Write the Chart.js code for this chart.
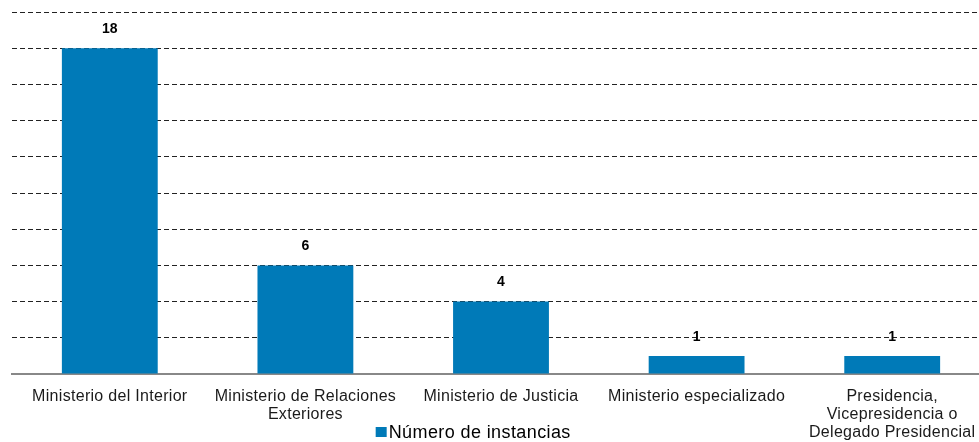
<!DOCTYPE html>
<html>
<head>
<meta charset="utf-8">
<script src="https://cdn.jsdelivr.net/npm/chart.js@4"></script>
<style>
    html, body { margin: 0; padding: 0; background: #ffffff; overflow: hidden; }
    #wrap { width: 990px; height: 442px; }
</style>
</head>
<body>
<div id="wrap"><canvas id="instChart" width="990" height="442"></canvas></div>
<script>
        const categories = [
            "Ministerio del Interior",
            ["Ministerio de Relaciones", "Exteriores"],
            "Ministerio de Justicia",
            "Ministerio especializado",
            ["Presidencia,", "Vicepresidencia o", "Delegado Presidencial"]
        ];
        const instancias = [18, 6, 4, 1, 1];
        const seriesName = "Número de instancias";
        const barColor = "#007ab8";

        Chart.defaults.font.family = "'Liberation Sans', Arial, Helvetica, sans-serif";
        Chart.defaults.color = "#1a1a1a";

        // slightly looser text for the axis labels
        const textSpacing = {
            id: "textSpacing",
            beforeDraw(chart) {
                chart.ctx.letterSpacing = "0.3px";
            }
        };

        // value labels above each bar
        const valueLabels = {
            id: "valueLabels",
            afterDatasetsDraw(chart) {
                const ctx = chart.ctx;
                const meta = chart.getDatasetMeta(0);
                ctx.save();
                ctx.letterSpacing = "0px";
                ctx.font = "bold 14px 'Liberation Sans', Arial, sans-serif";
                ctx.fillStyle = "#000000";
                ctx.textAlign = "center";
                ctx.textBaseline = "middle";
                meta.data.forEach((bar, i) => {
                    ctx.fillText(String(instancias[i]), bar.x, bar.y - 19);
                });
                ctx.restore();
            }
        };

        // legend sitting in the label band under the axis
        const bottomLegend = {
            id: "bottomLegend",
            afterDraw(chart) {
                const ctx = chart.ctx;
                ctx.save();
                ctx.font = "18px 'Liberation Sans', Arial, sans-serif";
                ctx.letterSpacing = "0.4px";
                const tw = ctx.measureText(seriesName).width;
                const total = 11 + 2 + tw;
                const cx = chart.width * 0.478;
                const x0 = cx - total / 2;
                const yMid = chart.height - 10;
                ctx.fillStyle = barColor;
                ctx.fillRect(x0, yMid - 5, 11, 10);
                ctx.fillStyle = "#000000";
                ctx.textBaseline = "middle";
                ctx.textAlign = "left";
                ctx.fillText(seriesName, x0 + 13, yMid + 1);
                ctx.restore();
            }
        };

        new Chart(
            document.getElementById("instChart"),
            {
                type: "bar",
                data: {
                    labels: categories,
                    datasets: [{
                        label: seriesName,
                        data: instancias,
                        backgroundColor: barColor,
                        barPercentage: 0.49,
                        categoryPercentage: 1.0
                    }]
                },
                options: {
                    responsive: false,
                    animation: false,
                    layout: { padding: { left: 12, top: 12, right: 0, bottom: 0 } },
                    plugins: {
                        legend: { display: false },
                        tooltip: { enabled: false }
                    },
                    scales: {
                        x: {
                            afterFit(scale) { scale.height = 68; },
                            grid: { display: false, drawTicks: false },
                            border: { display: true, color: "#888888", width: 2 },
                            ticks: {
                                maxRotation: 0,
                                autoSkip: false,
                                padding: 13,
                                font: { size: 16, lineHeight: 1.14 },
                                color: "#1a1a1a"
                            }
                        },
                        y: {
                            min: 0,
                            max: 20,
                            ticks: { display: false, stepSize: 2 },
                            grid: { color: "#222222", lineWidth: 1, drawTicks: false },
                            border: { display: false, dash: [5, 3] }
                        }
                    }
                },
                plugins: [textSpacing, valueLabels, bottomLegend]
            }
        );
</script>
</body>
</html>
